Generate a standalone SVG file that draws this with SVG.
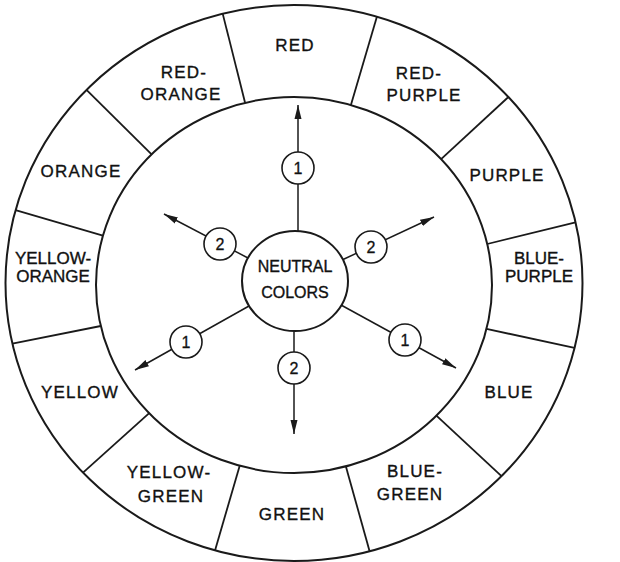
<svg xmlns="http://www.w3.org/2000/svg" width="620" height="562" viewBox="0 0 620 562">
<style>
.ring{fill:none;stroke:#1a1a1a;stroke-width:2}
.div{stroke:#1a1a1a;stroke-width:1.8}
.lbl{font-family:"Liberation Sans",Arial,sans-serif;font-size:17px;letter-spacing:1.2px;fill:#111;stroke:#111;stroke-width:0.35;text-anchor:middle}
.tight{letter-spacing:0px}
.ctr{font-family:"Liberation Sans",Arial,sans-serif;font-size:16px;fill:#111;stroke:#111;stroke-width:0.35;text-anchor:middle}
.arr{stroke:#1a1a1a;stroke-width:1.5;fill:none;marker-end:url(#ah)}
.num{fill:#fff;stroke:#1a1a1a;stroke-width:1.6}
.numt{font-family:"Liberation Sans",Arial,sans-serif;font-size:16px;fill:#111;stroke:#111;stroke-width:0.3;text-anchor:middle}
</style>
<defs>
<marker id="ah" markerUnits="userSpaceOnUse" markerWidth="15" markerHeight="8" refX="14" refY="4" orient="auto">
<path d="M0,0.5 L14,4 L0,7.5 Z" fill="#1a1a1a"/>
</marker>
</defs>
<rect x="0" y="0" width="620" height="562" fill="#fff"/>
<g id="wheel">
<ellipse class="ring" cx="294" cy="283" rx="288.5" ry="278"/>
<ellipse class="ring" cx="294" cy="285" rx="198" ry="188"/>
</g>
<g id="dividers">
<line class="div" x1="222.7" y1="13.6" x2="245.1" y2="102.8"/>
<line class="div" x1="376.9" y1="16.7" x2="350.9" y2="104.9"/>
<line class="div" x1="508.4" y1="97.0" x2="441.1" y2="159.2"/>
<line class="div" x1="575.5" y1="222.4" x2="487.2" y2="244.0"/>
<line class="div" x1="574.5" y1="347.9" x2="486.5" y2="328.9"/>
<line class="div" x1="501.5" y1="476.1" x2="436.4" y2="415.6"/>
<line class="div" x1="369.6" y1="551.3" x2="345.9" y2="466.4"/>
<line class="div" x1="215.0" y1="550.4" x2="239.7" y2="465.8"/>
<line class="div" x1="83.0" y1="472.6" x2="149.2" y2="413.2"/>
<line class="div" x1="12.4" y1="343.6" x2="100.8" y2="326.0"/>
<line class="div" x1="15.6" y1="210.1" x2="102.9" y2="235.7"/>
<line class="div" x1="86.5" y1="89.9" x2="151.6" y2="154.4"/>
</g>
<g id="red"><text class="lbl" x="295" y="51">RED</text></g>
<g id="red-purple"><text class="lbl" x="419" y="79">RED-</text><text class="lbl" x="424" y="101">PURPLE</text></g>
<g id="purple"><text class="lbl" x="507" y="181">PURPLE</text></g>
<g id="blue-purple"><text class="lbl tight" x="539" y="264">BLUE-</text><text class="lbl tight" x="539" y="282">PURPLE</text></g>
<g id="blue"><text class="lbl" x="509" y="398">BLUE</text></g>
<g id="blue-green"><text class="lbl" x="415" y="477">BLUE-</text><text class="lbl" x="410" y="500">GREEN</text></g>
<g id="green"><text class="lbl" x="292" y="520">GREEN</text></g>
<g id="yellow-green"><text class="lbl" x="169" y="478">YELLOW-</text><text class="lbl" x="171" y="502">GREEN</text></g>
<g id="yellow"><text class="lbl" x="80" y="398">YELLOW</text></g>
<g id="yellow-orange"><text class="lbl tight" x="53" y="264">YELLOW-</text><text class="lbl tight" x="53" y="282">ORANGE</text></g>
<g id="orange"><text class="lbl" x="81" y="177">ORANGE</text></g>
<g id="red-orange"><text class="lbl" x="184" y="78">RED-</text><text class="lbl" x="181" y="100">ORANGE</text></g>
<g id="connectors">
<line class="arr" x1="298" y1="232" x2="298" y2="105"/>
<line class="arr" x1="294" y1="331" x2="294" y2="434"/>
<line class="arr" x1="248" y1="258" x2="164" y2="214"/>
<line class="arr" x1="342" y1="260" x2="434" y2="217"/>
<line class="arr" x1="249" y1="306" x2="135" y2="370"/>
<line class="arr" x1="341" y1="305" x2="456" y2="368"/>
</g>
<g id="neutral">
<ellipse cx="295" cy="281" rx="53" ry="50" fill="#fff" stroke="#1a1a1a" stroke-width="2"/>
<text class="ctr" x="295" y="272">NEUTRAL</text>
<text class="ctr" x="295" y="298">COLORS</text>
</g>
<g id="n1-up"><circle class="num" cx="298" cy="168" r="16"/><text class="numt" x="298" y="174">1</text></g>
<g id="n2-ul"><circle class="num" cx="220" cy="244" r="16"/><text class="numt" x="220" y="250">2</text></g>
<g id="n2-ur"><circle class="num" cx="371" cy="247" r="16"/><text class="numt" x="371" y="253">2</text></g>
<g id="n1-ll"><circle class="num" cx="186" cy="342" r="16"/><text class="numt" x="186" y="348">1</text></g>
<g id="n1-lr"><circle class="num" cx="405" cy="340" r="16"/><text class="numt" x="405" y="346">1</text></g>
<g id="n2-dn"><circle class="num" cx="294" cy="368" r="16"/><text class="numt" x="294" y="374">2</text></g>
</svg>
